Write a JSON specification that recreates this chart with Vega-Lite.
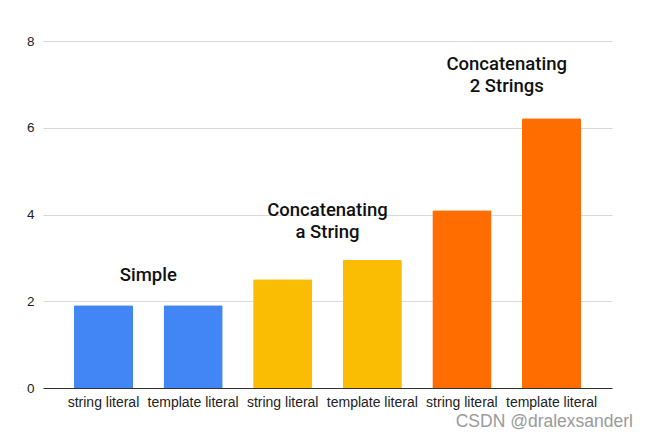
{
  "$schema": "https://vega.github.io/schema/vega-lite/v6.json",
  "width": 569,
  "height": 347,
  "autosize": {"type": "none"},
  "padding": {"left": 43, "top": 41, "right": 40, "bottom": 46},
  "background": "white",
  "config": {"view": {"stroke": null}, "font": "Roboto"},
  "title": {
    "text": "CSDN @dralexsanderl",
    "orient": "bottom",
    "anchor": "end",
    "color": "#9a9a9a",
    "fontSize": 17.5,
    "fontWeight": "normal",
    "font": "Liberation Sans",
    "offset": 4,
    "dx": 21
  },
  "datasets": {
    "bars": [
      {"cat": "1 string literal", "value": 1.91, "group": "Simple"},
      {"cat": "2 template literal", "value": 1.91, "group": "Simple"},
      {"cat": "3 string literal", "value": 2.51, "group": "Concatenating a String"},
      {"cat": "4 template literal", "value": 2.95, "group": "Concatenating a String"},
      {"cat": "5 string literal", "value": 4.1, "group": "Concatenating 2 Strings"},
      {"cat": "6 template literal", "value": 6.22, "group": "Concatenating 2 Strings"}
    ],
    "notes": [
      {"cat": "1 string literal", "y": 2.6, "label": "Simple"},
      {"cat": "3 string literal", "y": 4.11, "label": "Concatenating\na String"},
      {"cat": "5 string literal", "y": 7.46, "label": "Concatenating\n2 Strings"}
    ]
  },
  "layer": [
    {
      "data": {"name": "bars"},
      "mark": {"type": "bar", "cornerRadiusTopLeft": 1.5, "cornerRadiusTopRight": 1.5},
      "encoding": {
        "x": {
          "field": "cat",
          "type": "nominal",
          "sort": null,
          "scale": {"paddingInner": 0.34, "paddingOuter": 0.345},
          "axis": {
            "title": null,
            "labelAngle": 0,
            "labelExpr": "substring(datum.value, 2)",
            "labelFont": "Liberation Sans",
            "labelFontSize": 14,
            "labelColor": "#222222",
            "labelPadding": 7,
            "ticks": false,
            "domainColor": "#333333",
            "domainWidth": 1
          }
        },
        "y": {
          "field": "value",
          "type": "quantitative",
          "scale": {"domain": [0, 8], "nice": false},
          "axis": {
            "title": null,
            "values": [0, 2, 4, 6, 8],
            "labelFont": "Liberation Sans",
            "labelFontSize": 13.5,
            "labelColor": "#222222",
            "labelPadding": 9,
            "ticks": false,
            "domain": false,
            "gridColor": "#d9d9d9",
            "gridWidth": 1
          }
        },
        "color": {
          "field": "group",
          "type": "nominal",
          "scale": {
            "domain": ["Simple", "Concatenating a String", "Concatenating 2 Strings"],
            "range": ["#4285F4", "#FBBC04", "#FF6D01"]
          },
          "legend": null
        }
      }
    },
    {
      "data": {"name": "notes"},
      "mark": {
        "type": "text",
        "font": "Roboto",
        "fontWeight": 500,
        "fontSize": 18.5,
        "color": "#111111",
        "align": "center",
        "baseline": "middle",
        "lineBreak": "\n",
        "lineHeight": 22,
        "dx": 44.8
      },
      "encoding": {
        "x": {"field": "cat", "type": "nominal", "sort": null},
        "y": {"field": "y", "type": "quantitative"},
        "text": {"field": "label"}
      }
    }
  ]
}
